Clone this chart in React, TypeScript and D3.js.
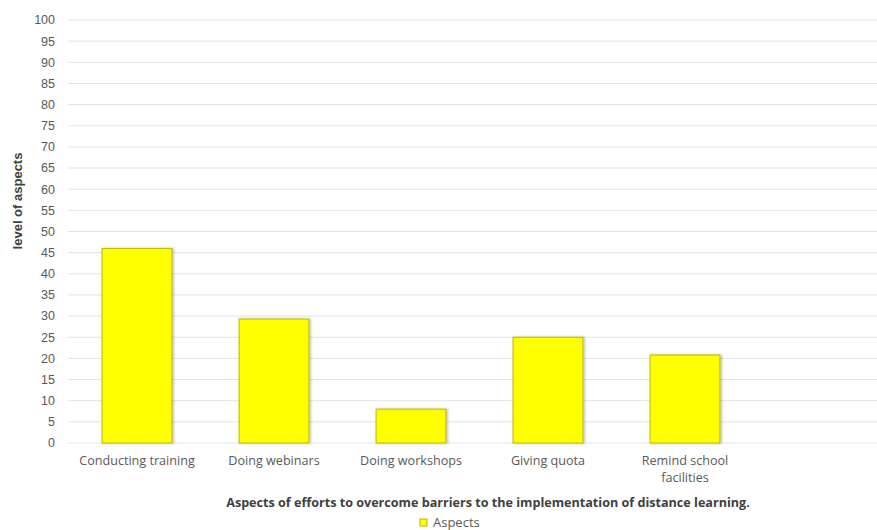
import React from "react";
import * as d3 from "d3";

const categories = ["Conducting training", "Doing webinars", "Doing workshops", "Giving quota", "Remind school facilities"];
const values = [46, 29.3, 8, 25, 20.8];
const yTicks = d3.range(0, 101, 5);
const seriesName = "Aspects";
const yTitle = "level of aspects";
const xTitle = "Aspects of efforts to overcome barriers to the implementation of distance learning.";

const W = 877, H = 530;
const plotLeft = 68, plotRight = 877, plotTop = 20, plotBottom = 443;

export default function App() {
  const y = d3.scaleLinear().domain([0, 100]).range([plotBottom, plotTop]);
  const x = d3.scaleBand<string>().domain(categories).range([68.5, 68.5 + 137 * categories.length]).paddingInner(0.49).paddingOuter(0.245);
  const wrap = (s: string) => (s === "Remind school facilities" ? ["Remind school", "facilities"] : [s]);
  return (
    <svg width={W} height={H} style={{ position: "absolute", left: 0, top: 0, background: "#fff" }}>
      <defs>
        <filter id="sh" x="-10%" y="-10%" width="130%" height="120%">
          <feDropShadow dx="1.5" dy="0" stdDeviation="1" floodColor="#000" floodOpacity="0.25" />
        </filter>
      </defs>
      {yTicks.map((t) => (
        <g key={t}>
          <line x1={plotLeft} x2={plotRight} y1={y(t)} y2={y(t)} stroke="#e3e3e3" strokeWidth={1} />
          <text x={55} y={y(t)} dy="0.35em" textAnchor="end" fontFamily="Liberation Sans, Arial, sans-serif" fontSize={12.5} fill="#595959">{t}</text>
        </g>
      ))}
      {categories.map((c, i) => (
        <rect key={c} x={x(c)} y={y(values[i])} width={x.bandwidth()} height={plotBottom - y(values[i])}
          fill="#ffff00" stroke="#b8b800" strokeWidth={1} filter="url(#sh)" />
      ))}
      {categories.map((c) =>
        wrap(c).map((l, j) => (
          <text key={c + j} x={(x(c) as number) + x.bandwidth() / 2} y={465 + j * 17} textAnchor="middle" fontFamily="Open Sans, sans-serif" fontSize={12.6} fill="#595959">{l}</text>
        ))
      )}
      <text transform="translate(22,201) rotate(-90)" textAnchor="middle" fontFamily="Liberation Sans, Arial, sans-serif" fontWeight="bold" fontSize={13} fill="#404040">{yTitle}</text>
      <text x={488} y={507} textAnchor="middle" fontFamily="Open Sans, sans-serif" fontWeight="bold" fontSize={12.6} fill="#404040">{xTitle}</text>
      <rect x={420} y={519} width={7} height={7} fill="#ffff00" stroke="#b8b800" />
      <text x={433} y={527} fontFamily="Open Sans, sans-serif" fontSize={13} fill="#595959">{seriesName}</text>
    </svg>
  );
}
